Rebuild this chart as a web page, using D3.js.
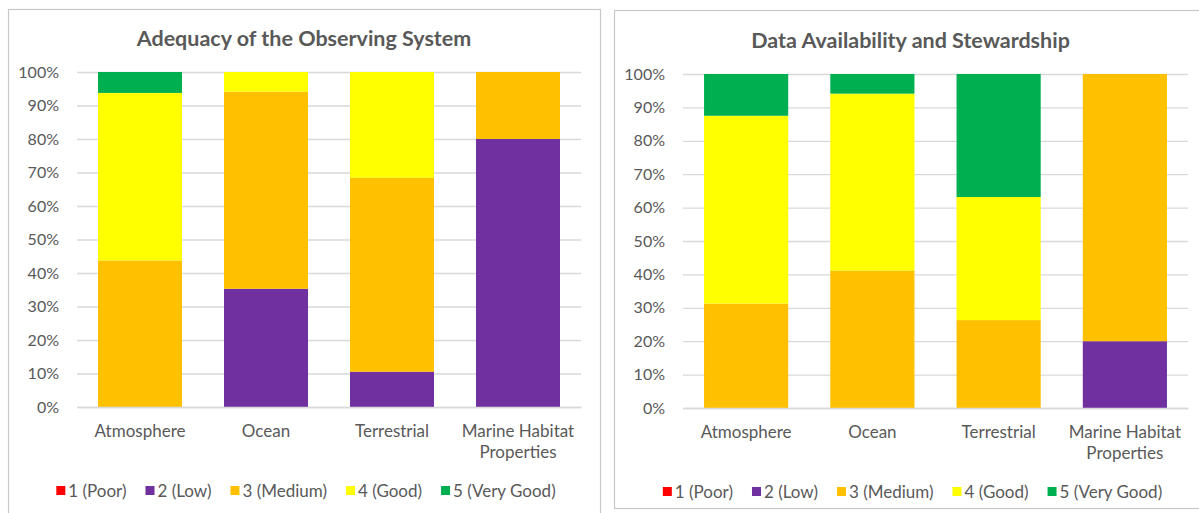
<!DOCTYPE html>
<html>
<head>
<meta charset="utf-8">
<script src="https://cdn.jsdelivr.net/npm/d3@7"></script>
<style>
  html, body { margin: 0; padding: 0; background: #ffffff; }
  svg { display: block; font-family: Lato, "Open Sans", sans-serif; }
</style>
</head>
<body>
<svg id="chart" width="1199" height="513"></svg>
<script>
// Assessment categories shared by both panels
const categories = ["Atmosphere", "Ocean", "Terrestrial", "Marine Habitat Properties"];

// Rating scale (stack order, bottom to top)
const ratingLabels = ["1 (Poor)", "2 (Low)", "3 (Medium)", "4 (Good)", "5 (Very Good)"];
const ratingColors = ["#ff0000", "#7030a0", "#ffc000", "#ffff00", "#00b050"];

// Share of variables (%) in each rating — Adequacy of the Observing System
const adequacyPoor     = [0, 0, 0, 0];
const adequacyLow      = [0, 35.29, 10.53, 80];
const adequacyMedium   = [43.75, 58.82, 57.89, 20];
const adequacyGood     = [50, 5.89, 31.58, 0];
const adequacyVeryGood = [6.25, 0, 0, 0];

// Share of variables (%) in each rating — Data Availability and Stewardship
const stewardshipPoor     = [0, 0, 0, 0];
const stewardshipLow      = [0, 0, 0, 20];
const stewardshipMedium   = [31.25, 41.18, 26.32, 80];
const stewardshipGood     = [56.25, 52.94, 36.84, 0];
const stewardshipVeryGood = [12.5, 5.88, 36.84, 0];

const yTickValues = [0, 10, 20, 30, 40, 50, 60, 70, 80, 90, 100];

const panels = [
  {
    title: "Adequacy of the Observing System",
    series: [adequacyPoor, adequacyLow, adequacyMedium, adequacyGood, adequacyVeryGood],
    box: { x: 8.5, y: 9.5, w: 592, h: 520 },
    plot: { left: 77, right: 581, top: 72, bottom: 407 }
  },
  {
    title: "Data Availability and Stewardship",
    series: [stewardshipPoor, stewardshipLow, stewardshipMedium, stewardshipGood, stewardshipVeryGood],
    box: { x: 614.5, y: 10.5, w: 600, h: 498 },
    plot: { left: 683, right: 1188, top: 74, bottom: 408 }
  }
];

const svg = d3.select("#chart");
const textColor = "#595959";
const gridColor = "#d9d9d9";

function wrapLabel(textSel, maxWidth) {
  textSel.each(function () {
    const t = d3.select(this);
    const words = t.text().split(/\s+/);
    const x = t.attr("x") || 0;
    const y = t.attr("y");
    const dy = parseFloat(t.attr("dy")) || 0;
    t.text(null);
    let line = [];
    let lineNo = 0;
    let tspan = t.append("tspan").attr("x", x).attr("y", y).attr("dy", dy + "em");
    for (const w of words) {
      line.push(w);
      tspan.text(line.join(" "));
      if (tspan.node().getComputedTextLength() > maxWidth && line.length > 1) {
        line.pop();
        tspan.text(line.join(" "));
        line = [w];
        lineNo++;
        tspan = t.append("tspan").attr("x", x).attr("y", y)
          .attr("dy", (dy + lineNo * 1.25) + "em").text(w);
      }
    }
  });
}

panels.forEach(p => {
  const g = svg.append("g");

  // panel frame
  g.append("rect")
    .attr("x", p.box.x).attr("y", p.box.y)
    .attr("width", p.box.w).attr("height", p.box.h)
    .attr("fill", "#ffffff")
    .attr("stroke", "#c8c8c8").attr("stroke-width", 1.2);

  const cx = (p.plot.left + p.plot.right) / 2;

  // title
  g.append("text")
    .attr("x", cx - 25).attr("y", p.plot.top - 26)
    .attr("text-anchor", "middle")
    .attr("font-size", 21.5).attr("font-weight", 700)
    .attr("fill", textColor)
    .text(p.title);

  const x = d3.scaleBand()
    .domain(categories)
    .range([p.plot.left, p.plot.right])
    .paddingInner(1 / 3)
    .paddingOuter(1 / 6);

  const y = d3.scaleLinear().domain([0, 100]).range([p.plot.bottom, p.plot.top]);

  // gridlines + y tick labels
  const yAxis = g.append("g")
    .attr("transform", `translate(${p.plot.left},0)`)
    .call(d3.axisLeft(y)
      .tickValues(yTickValues)
      .tickFormat(d => d + "%")
      .tickSize(-(p.plot.right - p.plot.left))
      .tickPadding(18));
  yAxis.select(".domain").remove();
  yAxis.selectAll(".tick line").attr("stroke", gridColor).attr("stroke-width", 1.3);
  yAxis.selectAll(".tick text")
    .attr("fill", textColor).attr("font-size", 16)
    .attr("font-family", "Lato, sans-serif");

  // stacked bars
  const rows = categories.map((c, i) => {
    const r = { category: c };
    ratingLabels.forEach((lab, k) => { r[lab] = p.series[k][i]; });
    return r;
  });
  const stacked = d3.stack().keys(ratingLabels)(rows);

  g.append("g").selectAll("g")
    .data(stacked)
    .join("g")
    .attr("fill", (d, k) => ratingColors[k])
    .selectAll("rect")
    .data(d => d.filter(s => s[1] - s[0] > 0))
    .join("rect")
    .attr("x", d => x(d.data.category))
    .attr("width", x.bandwidth())
    .attr("y", d => y(d[1]))
    .attr("height", d => y(d[0]) - y(d[1]));

  // category axis
  const xAxis = g.append("g")
    .attr("transform", `translate(0,${p.plot.bottom})`)
    .call(d3.axisBottom(x).tickSize(0).tickPadding(18));
  xAxis.select(".domain").attr("stroke", gridColor).attr("stroke-width", 1.3);
  xAxis.selectAll(".tick text")
    .attr("fill", textColor).attr("font-size", 17)
    .attr("font-family", "Lato, sans-serif")
    .call(wrapLabel, x.step() - 4);

  // legend
  const legend = g.append("g").attr("font-size", 17).attr("fill", textColor);
  const items = legend.selectAll("g")
    .data(ratingLabels)
    .join("g");
  items.append("rect")
    .attr("width", 9).attr("height", 9)
    .attr("y", -11)
    .attr("fill", (d, k) => ratingColors[k]);
  items.append("text")
    .attr("x", 12).attr("y", 0)
    .text(d => d);
  let offset = 0;
  const gap = 19;
  items.each(function () {
    const w = 12 + d3.select(this).select("text").node().getComputedTextLength();
    d3.select(this).attr("transform", `translate(${offset},0)`);
    offset += w + gap;
  });
  const total = offset - gap;
  legend.attr("transform", `translate(${cx - 23 - total / 2},${p.plot.bottom + 90})`);
});
</script>
</body>
</html>
